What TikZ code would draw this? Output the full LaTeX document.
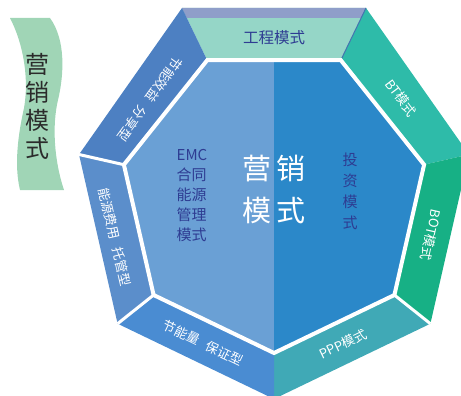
\documentclass[tikz,border=0pt]{standalone}
\usepackage{fontspec}
\newfontfamily\cjk{Noto Sans CJK SC}
\definecolor{innerL}{HTML}{6AA0D5}
\definecolor{innerR}{HTML}{2B88C9}
\definecolor{segUL}{HTML}{4D80C2}
\definecolor{segL}{HTML}{5B8ECB}
\definecolor{segLL}{HTML}{4A8CD2}
\definecolor{segPPP}{HTML}{40A9B6}
\definecolor{segBOT}{HTML}{17B085}
\definecolor{segBT}{HTML}{2EBBA9}
\definecolor{segTop}{HTML}{95D6C7}
\definecolor{band}{HTML}{8F9EC9}
\definecolor{navy}{HTML}{2E3C92}
\definecolor{bannerG}{HTML}{A0D5B6}
\definecolor{ink}{HTML}{2B2B2B}
\begin{document}
\begin{tikzpicture}[x=1pt,y=-1pt,
  every node/.style={inner sep=0pt, outer sep=0pt},
  ringlabel/.style={font=\cjk\fontsize{13}{15}\selectfont, text=white},
  divider/.style={draw=white, line width=3pt},
  navytext/.style={text=navy}]
\useasboundingbox (0,0) rectangle (461,396);
\clip (0,0) rectangle (461,396);
% inner heptagon vertices
\coordinate (A0) at (274,353);
\coordinate (A1) at (394.4,295.0);
\coordinate (A2) at (424.1,164.7);
\coordinate (A3) at (340.8,60.2);
\coordinate (A4) at (207.2,60.2);
\coordinate (A5) at (123.9,164.7);
\coordinate (A6) at (153.6,295.0);
% outer vertices
\coordinate (B0) at (274,399);
\coordinate (B1) at (430.4,323.7);
\coordinate (B2) at (469,154.5);
\coordinate (B3) at (366,8);
\coordinate (B4) at (182,8);
\coordinate (B5) at (79,154.5);
\coordinate (B6) at (117.6,323.7);
\coordinate (T3) at (361.2,18);
\coordinate (T4) at (186.8,18);
\coordinate (Mtop) at (274,60.2);
\coordinate (Mbot) at (274,353);
% ring segments
\fill[segTop] (A4) -- (A3) -- (B3) -- (B4) -- cycle;
\fill[band] (B4) -- (B3) -- (T3) -- (T4) -- cycle;
\fill[segBT] (A3) -- (A2) -- (B2) -- (B3) -- cycle;
\fill[segBOT] (A2) -- (A1) -- (B1) -- (B2) -- cycle;
\fill[segPPP] (A1) -- (A0) -- (B0) -- (B1) -- cycle;
\fill[segLL] (A0) -- (A6) -- (B6) -- (B0) -- cycle;
\fill[segL] (A6) -- (A5) -- (B5) -- (B6) -- cycle;
\fill[segUL] (A5) -- (A4) -- (B4) -- (B5) -- cycle;
\draw[segUL!90!black, line width=1pt] (A3) -- (B3);
% white dividers
\draw[divider] (A5) -- (B5);
\draw[divider] (A6) -- (B6);
\draw[divider] (A1) -- (B1);
% inner heptagon
\fill[innerL] (Mtop) -- (A4) -- (A5) -- (A6) -- (Mbot) -- cycle;
\fill[innerR] (Mtop) -- (A3) -- (A2) -- (A1) -- (Mbot) -- cycle;
\draw[white, line width=4pt, line join=miter] (A0) -- (A1) -- (A2) -- (A3) -- (A4) -- (A5) -- (A6) -- cycle;
% ring labels
\node[font=\cjk\fontsize{15.5}{18}\selectfont, navytext] (lblTop) at (274,38) {工程模式};
\node[ringlabel, rotate=-53] (lblBT) at (401,98) {BT模式};
\node[ringlabel, rotate=-102.9] (lblBOT) at (431,235) {BOT模式};
\node[ringlabel, rotate=25.7] (lblPPP) at (343,344) {PPP模式};
\node[ringlabel, rotate=-25.7] (lblLL) at (203,343) {节能量\hspace{9pt}保证型};
\node[ringlabel, rotate=-77] (lblL) at (115,237) {能源费用\hspace{9pt}托管型};
\node[ringlabel, rotate=-126] (lblUL) at (150,99) {节能效益\hspace{9pt}分享型};
% inner texts
\node[font=\cjk\fontsize{29}{42}\selectfont, text=white, align=center] (title) at (274,189) {营\hspace{5pt}销\\模\hspace{5pt}式};
\node[font=\cjk\fontsize{15}{20}\selectfont, navytext, align=left] (emc) at (192,196) {EMC\\合同\\能源\\管理\\模式};
\node[font=\cjk\fontsize{15}{21}\selectfont, navytext, align=center] (invest) at (350,191) {投\\资\\模\\式};
% left banner
\fill[bannerG] (10,18) -- (50,18) .. controls (66,40) and (64,75) .. (58,100)
  .. controls (52,125) and (54,160) .. (64,190) -- (20,190)
  .. controls (14,165) and (18,135) .. (24,108)
  .. controls (29,80) and (24,45) .. (10,18) -- cycle;
\node[font=\cjk\fontsize{24}{28}\selectfont, text=ink, align=center] (banner) at (37,106) {营\\销\\模\\式};
\end{tikzpicture}
\end{document}
